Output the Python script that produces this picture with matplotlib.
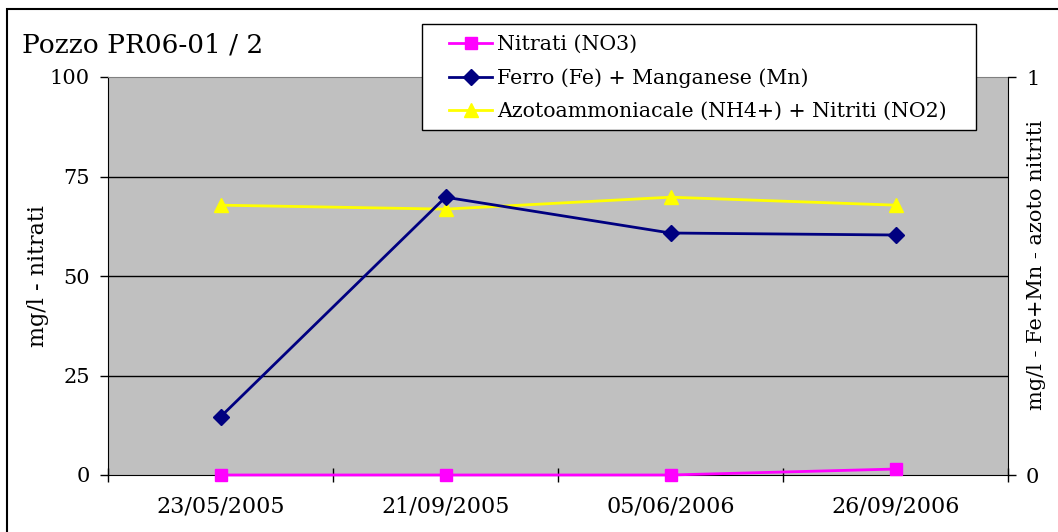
import matplotlib
matplotlib.use("Agg")
import matplotlib.pyplot as plt
from matplotlib.patches import Rectangle

categories = ["23/05/2005", "21/09/2005", "05/06/2006", "26/09/2006"]
nitrati = [0.0, 0.0, 0.0, 1.5]
fe_mn = [0.146, 0.698, 0.608, 0.603]
nh4_no2 = [0.678, 0.668, 0.698, 0.678]
left_ticks = [0, 25, 50, 75, 100]
right_ticks = [0, 1]

W, H = 1058, 532
plt.rcParams['font.family'] = ['DejaVu Serif']
fig = plt.figure(figsize=(W / 100, H / 100), dpi=100)
ax = fig.add_axes([108 / W, 1 - 475 / H, 900 / W, 398 / H])
ax2 = ax.twinx()

x = list(range(len(categories)))
ax.set_facecolor("#C0C0C0")
ax2.patch.set_visible(False)

ax.set_xlim(-0.5, len(categories) - 0.5)
ax.set_ylim(0, 100)
ax2.set_ylim(0, 1)

for yv in left_ticks[1:-1]:
    ax.axhline(yv, color="black", lw=1, zorder=1)

l1, = ax.plot(x, nitrati, color="#FF00FF", marker="s", ms=9, lw=2, zorder=3, clip_on=False)
l2, = ax2.plot(x, fe_mn, color="#000080", marker="D", ms=8, lw=2, zorder=3)
l3, = ax2.plot(x, nh4_no2, color="#FFFF00", marker="^", ms=10, lw=2, zorder=2)

ax.set_yticks(left_ticks)
ax.set_yticklabels([str(t) for t in left_ticks], fontsize=15)
ax2.set_yticks(right_ticks)
ax2.set_yticklabels([str(t) for t in right_ticks], fontsize=15)
ax.tick_params(axis="y", direction="out", length=6, width=1, pad=7)
ax2.tick_params(axis="y", direction="out", length=6, width=1, pad=7)

ax.set_xticks([i - 0.5 for i in range(len(categories) + 1)])
ax.set_xticklabels([])
ax.set_xticks(x, minor=True)
ax.set_xticklabels(categories, minor=True, fontsize=16)
ax.tick_params(axis="x", which="major", direction="inout", length=10, width=1)
ax.tick_params(axis="x", which="minor", length=0, pad=15)
ax2.tick_params(axis="x", which="both", length=0)

for a in (ax, ax2):
    for s in a.spines.values():
        s.set_visible(False)
ax.spines["left"].set_visible(True)
ax.spines["bottom"].set_visible(True)
ax2.spines["right"].set_visible(True)
ax.spines["top"].set_visible(True)
ax.spines["top"].set_color("#808080")
ax.spines["left"].set_color("black")
ax.spines["bottom"].set_color("black")
ax2.spines["right"].set_color("black")

fig.text(38 / W, 1 - 276 / H, "mg/l - nitrati", fontsize=16, rotation=90,
         ha="center", va="center")
fig.text(1037 / W, 1 - 265 / H, "mg/l - Fe+Mn - azoto nitriti", fontsize=15,
         rotation=90, ha="center", va="center")

fig.text(22 / W, 1 - 45 / H, "Pozzo PR06-01 / 2", fontsize=19, va="center", ha="left")

# legend frame
fig.add_artist(Rectangle((422 / W, 1 - 130 / H), (976 - 422) / W, (130 - 24) / H,
                         transform=fig.transFigure, facecolor="white",
                         edgecolor="black", lw=1, zorder=9))
leg = fig.legend([l1, l2, l3],
                 ["Nitrati (NO3)", "Ferro (Fe) + Manganese (Mn)",
                  "Azotoammoniacale (NH4+) + Nitriti (NO2)"],
                 loc="center left", bbox_to_anchor=(449 / W, 1 - 78 / H),
                 fontsize=14.8, frameon=False, handlelength=2.1, handletextpad=0.25,
                 borderpad=0, labelspacing=0.68, borderaxespad=0)
leg.set_zorder(10)

fig.add_artist(Rectangle((7 / W, -0.1), 1.2, 1 - 9 / H + 0.1, transform=fig.transFigure,
                         fill=False, edgecolor="black", lw=1.5))

fig.savefig("out.png", dpi=100)
